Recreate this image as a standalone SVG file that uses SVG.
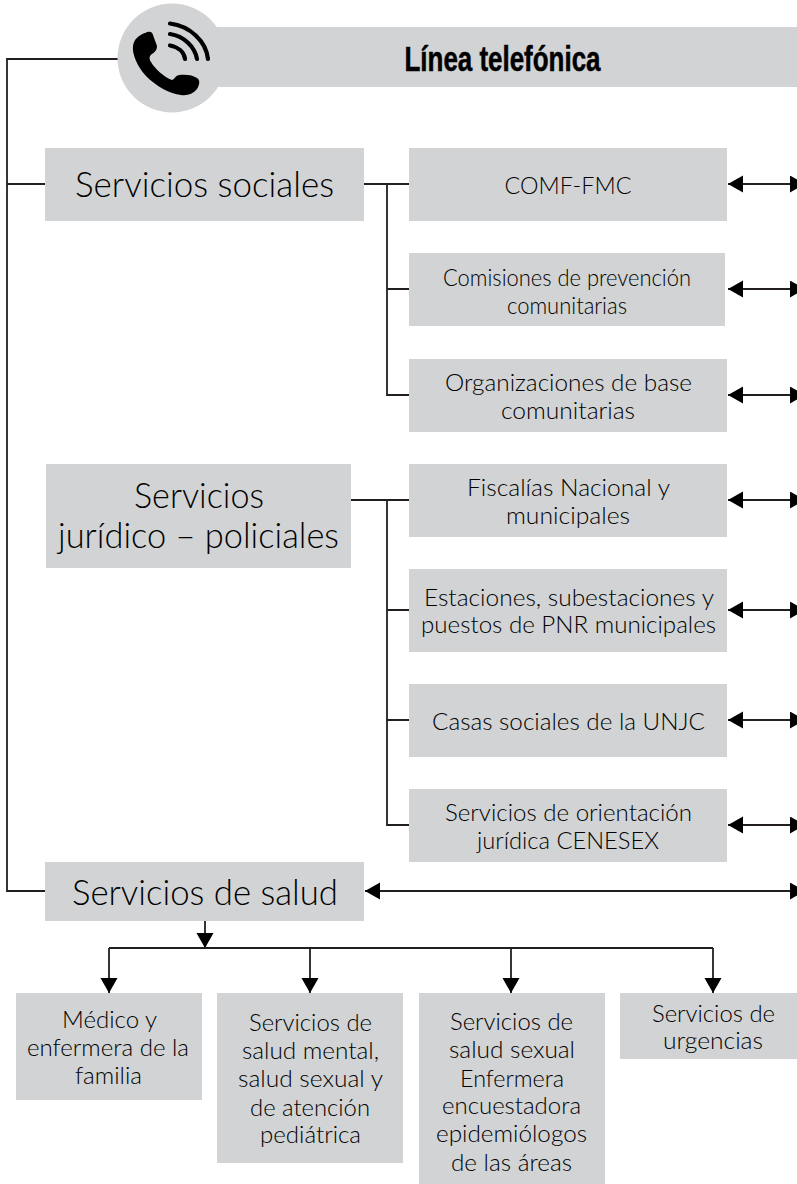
<svg xmlns="http://www.w3.org/2000/svg" width="797" height="1184" viewBox="0 0 797 1184">
<style>
.b{fill:#d1d3d4}
.l{fill:none;stroke:#231f20;stroke-width:1.8}
.t{font-family:"Lato","Noto Sans",sans-serif;font-weight:300;fill:#000;text-anchor:middle}
.s{font-size:24px}
.g{font-size:35px}
</style>
<defs>
<marker id="a" markerUnits="userSpaceOnUse" markerWidth="16" markerHeight="18" refX="15" refY="8.500" orient="auto-start-reverse"><path d="M0 0L15 8.500L0 17Z" fill="#000"/></marker>
</defs>
<rect width="797" height="1184" fill="#fff"/>
<g id="connectors">
<path class="l" d="M118 59H7V891H45M7 184H45"/>
<path class="l" d="M364 184H409M387 184V395H409M387 289H409M351 500H409M387 500V825H409M387 610H409M387 720H409"/>
<path class="l" d="M728 184H805" marker-start="url(#a)" marker-end="url(#a)"/>
<path class="l" d="M728 289H805" marker-start="url(#a)" marker-end="url(#a)"/>
<path class="l" d="M728 395H805" marker-start="url(#a)" marker-end="url(#a)"/>
<path class="l" d="M728 500H805" marker-start="url(#a)" marker-end="url(#a)"/>
<path class="l" d="M728 610H805" marker-start="url(#a)" marker-end="url(#a)"/>
<path class="l" d="M728 720H805" marker-start="url(#a)" marker-end="url(#a)"/>
<path class="l" d="M728 825H805" marker-start="url(#a)" marker-end="url(#a)"/>
<path class="l" d="M365 891H805" marker-start="url(#a)" marker-end="url(#a)"/>
<path class="l" d="M205 921V948" marker-end="url(#a)"/>
<path class="l" d="M109 948H713"/>
<path class="l" d="M109 948V993" marker-end="url(#a)"/>
<path class="l" d="M310 948V993" marker-end="url(#a)"/>
<path class="l" d="M511 948V993" marker-end="url(#a)"/>
<path class="l" d="M713 948V993" marker-end="url(#a)"/>
</g>
<g id="linea">
<rect class="b" x="172" y="27" width="625" height="60"/>
<circle class="b" cx="172" cy="58" r="54.500"/>
<path fill="#000" d="M145 33C149 31 152 31 153 35L157 46C157 50 155 52 152 54C149 56 149 59 151 62C155 69 164 77 172 80C175 79 175 76 179 75C186 74 193 75 197 78C200 80 200 84 197 89C193 94 187 96 181 95C170 94 156 86 146 76C137 66 132 54 133 46C134 39 139 35 145 33Z"/>
<path fill="none" stroke="#000" stroke-width="4.200" stroke-linecap="round" d="M170 23.500C190 26 206 41 208 59M170 34C184 36 195 47 197 59M170 45.500C178 47 184 52 185 59"/>
<text x="502.500" y="71" text-anchor="middle" font-family="'Liberation Sans Narrow','Liberation Sans',sans-serif" font-weight="700" font-size="35" textLength="196" lengthAdjust="spacingAndGlyphs" fill="#000" stroke="#000" stroke-width="0.500">Línea telefónica</text>
</g>
<g id="sociales"><rect class="b" x="45" y="148" width="319" height="73"/><text class="t g" x="204.500" y="197" textLength="259" lengthAdjust="spacingAndGlyphs">Servicios sociales</text></g>
<g id="comf"><rect class="b" x="409" y="148" width="318" height="73"/><text class="t s" x="568" y="194" textLength="127" lengthAdjust="spacingAndGlyphs">COMF-FMC</text></g>
<g id="comisiones"><rect class="b" x="409" y="253" width="316" height="73"/><text class="t s" x="567" y="286" textLength="248" lengthAdjust="spacingAndGlyphs">Comisiones de prevención</text><text class="t s" x="567" y="314" textLength="120" lengthAdjust="spacingAndGlyphs">comunitarias</text></g>
<g id="organizaciones"><rect class="b" x="409" y="359" width="318" height="73"/><text class="t s" x="568.500" y="391" textLength="247" lengthAdjust="spacingAndGlyphs">Organizaciones de base</text><text class="t s" x="568" y="419" textLength="134" lengthAdjust="spacingAndGlyphs">comunitarias</text></g>
<g id="juridico"><rect class="b" x="46" y="464" width="305" height="104"/><text class="t g" x="199" y="508" textLength="130" lengthAdjust="spacingAndGlyphs">Servicios</text><text class="t g" x="198.500" y="548" textLength="281" lengthAdjust="spacingAndGlyphs">jurídico – policiales</text></g>
<g id="fiscalias"><rect class="b" x="409" y="464" width="318" height="73"/><text class="t s" x="568.500" y="496" textLength="203" lengthAdjust="spacingAndGlyphs">Fiscalías Nacional y</text><text class="t s" x="568" y="524" textLength="124" lengthAdjust="spacingAndGlyphs">municipales</text></g>
<g id="estaciones"><rect class="b" x="409" y="569" width="318" height="83"/><text class="t s" x="569" y="606" textLength="290" lengthAdjust="spacingAndGlyphs">Estaciones, subestaciones y</text><text class="t s" x="568.500" y="633" textLength="295" lengthAdjust="spacingAndGlyphs">puestos de PNR municipales</text></g>
<g id="casas"><rect class="b" x="409" y="684" width="318" height="73"/><text class="t s" x="568.500" y="730" textLength="273" lengthAdjust="spacingAndGlyphs">Casas sociales de la UNJC</text></g>
<g id="orientacion"><rect class="b" x="409" y="789" width="318" height="73"/><text class="t s" x="568.500" y="821" textLength="247" lengthAdjust="spacingAndGlyphs">Servicios de orientación</text><text class="t s" x="568" y="849" textLength="182" lengthAdjust="spacingAndGlyphs">jurídica CENESEX</text></g>
<g id="salud"><rect class="b" x="45" y="862" width="319" height="59"/><text class="t g" x="205" y="905" textLength="266" lengthAdjust="spacingAndGlyphs">Servicios de salud</text></g>
<g id="medico"><rect class="b" x="16" y="993" width="186" height="107"/><text class="t s" x="109.500" y="1028" textLength="95" lengthAdjust="spacingAndGlyphs">Médico y</text><text class="t s" x="108" y="1056" textLength="162" lengthAdjust="spacingAndGlyphs">enfermera de la</text><text class="t s" x="108.500" y="1084" textLength="67" lengthAdjust="spacingAndGlyphs">familia</text></g>
<g id="mental"><rect class="b" x="217" y="993" width="186" height="170"/><text class="t s" x="310.500" y="1031" textLength="123" lengthAdjust="spacingAndGlyphs">Servicios de</text><text class="t s" x="310.500" y="1059" textLength="137" lengthAdjust="spacingAndGlyphs">salud mental,</text><text class="t s" x="310.500" y="1087" textLength="145" lengthAdjust="spacingAndGlyphs">salud sexual y</text><text class="t s" x="310" y="1116" textLength="120" lengthAdjust="spacingAndGlyphs">de atención</text><text class="t s" x="310.500" y="1143" textLength="101" lengthAdjust="spacingAndGlyphs">pediátrica</text></g>
<g id="sexual"><rect class="b" x="419" y="993" width="186" height="191"/><text class="t s" x="511.500" y="1030" textLength="123" lengthAdjust="spacingAndGlyphs">Servicios de</text><text class="t s" x="512" y="1058" textLength="126" lengthAdjust="spacingAndGlyphs">salud sexual</text><text class="t s" x="512" y="1087" textLength="104" lengthAdjust="spacingAndGlyphs">Enfermera</text><text class="t s" x="511.500" y="1114" textLength="139" lengthAdjust="spacingAndGlyphs">encuestadora</text><text class="t s" x="511.500" y="1142" textLength="151" lengthAdjust="spacingAndGlyphs">epidemiólogos</text><text class="t s" x="511.500" y="1171" textLength="121" lengthAdjust="spacingAndGlyphs">de las áreas</text></g>
<g id="urgencias"><rect class="b" x="620" y="993" width="177" height="66"/><text class="t s" x="713.500" y="1022" textLength="123" lengthAdjust="spacingAndGlyphs">Servicios de</text><text class="t s" x="713" y="1049" textLength="100" lengthAdjust="spacingAndGlyphs">urgencias</text></g>
</svg>
